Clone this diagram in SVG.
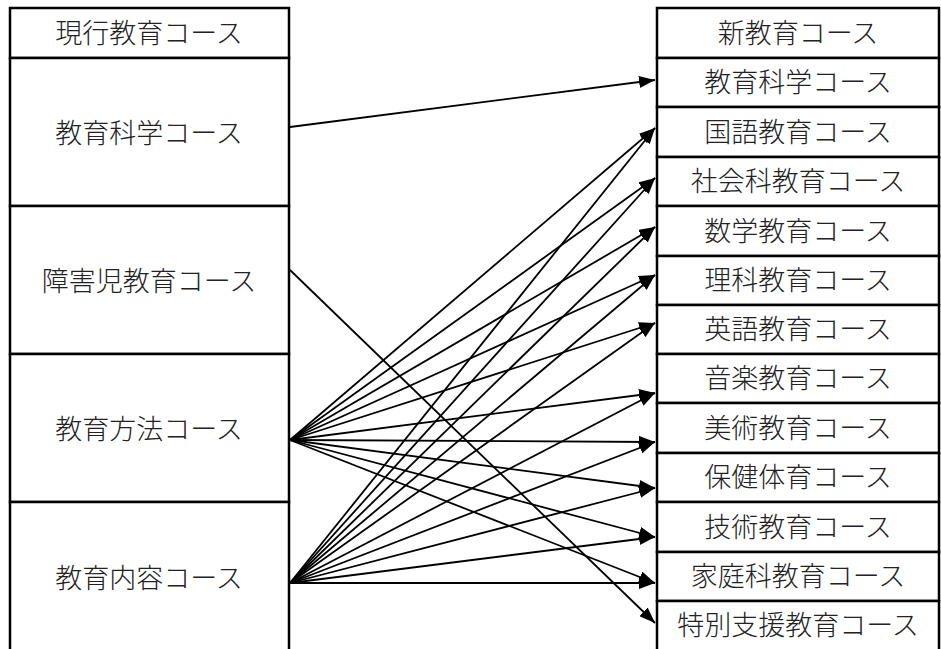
<svg xmlns="http://www.w3.org/2000/svg" width="941" height="649" viewBox="0 0 941 649">
<style>
.box{fill:#fff;stroke:#000;stroke-width:2.5}
.t{font-family:"Noto Sans CJK JP","Noto Sans CJK SC",sans-serif;font-size:27px;font-weight:300;fill:#222;text-anchor:middle}
.c{stroke:#000;stroke-width:1.8;fill:none;marker-end:url(#ah)}
</style>
<defs>
<marker id="ah" markerUnits="userSpaceOnUse" markerWidth="17" markerHeight="12" refX="16" refY="6" orient="auto"><path d="M0,0 L16,6 L0,12 z" fill="#000"/></marker>
</defs>
<rect x="0" y="0" width="941" height="649" fill="#fff"/>
<g id="left">
<g id="L0"><path class="box" d="M10,58 V8 H289 V58 Z"/><text class="t" x="149" y="43">現行教育コース</text></g>
<g id="L1"><path class="box" d="M10,58 H289 V206 H10 Z"/><text class="t" x="149" y="143">教育科学コース</text></g>
<g id="L2"><path class="box" d="M10,206 H289 V354 H10 Z"/><text class="t" x="149" y="291">障害児教育コース</text></g>
<g id="L3"><path class="box" d="M10,354 H289 V502 H10 Z"/><text class="t" x="149" y="439">教育方法コース</text></g>
<g id="L4"><path class="box" d="M10,651 V502 H289 V651"/><text class="t" x="149" y="588">教育内容コース</text></g>
</g>
<g id="right">
<g id="R0"><path class="box" d="M657,8 H939 V58 H657 Z"/><text class="t" x="798" y="43">新教育コース</text></g>
<g id="R1"><path class="box" d="M657,58 H939 V107 H657 Z"/><text class="t" x="798" y="92">教育科学コース</text></g>
<g id="R2"><path class="box" d="M657,107 H939 V157 H657 Z"/><text class="t" x="798" y="142">国語教育コース</text></g>
<g id="R3"><path class="box" d="M657,157 H939 V206 H657 Z"/><text class="t" x="798" y="191">社会科教育コース</text></g>
<g id="R4"><path class="box" d="M657,206 H939 V256 H657 Z"/><text class="t" x="798" y="241">数学教育コース</text></g>
<g id="R5"><path class="box" d="M657,256 H939 V305 H657 Z"/><text class="t" x="798" y="290">理科教育コース</text></g>
<g id="R6"><path class="box" d="M657,305 H939 V354 H657 Z"/><text class="t" x="798" y="339">英語教育コース</text></g>
<g id="R7"><path class="box" d="M657,354 H939 V403 H657 Z"/><text class="t" x="798" y="388">音楽教育コース</text></g>
<g id="R8"><path class="box" d="M657,403 H939 V453 H657 Z"/><text class="t" x="798" y="438">美術教育コース</text></g>
<g id="R9"><path class="box" d="M657,453 H939 V502 H657 Z"/><text class="t" x="798" y="487">保健体育コース</text></g>
<g id="R10"><path class="box" d="M657,502 H939 V552 H657 Z"/><text class="t" x="798" y="537">技術教育コース</text></g>
<g id="R11"><path class="box" d="M657,552 H939 V601 H657 Z"/><text class="t" x="798" y="586">家庭科教育コース</text></g>
<g id="R12"><path class="box" d="M657,651 V601 H939 V651"/><text class="t" x="798" y="635">特別支援教育コース</text></g>
</g>
<g id="connectors">
<line class="c" x1="290" y1="127" x2="655" y2="80"/>
<line class="c" x1="290" y1="270" x2="655" y2="623"/>
<line class="c" x1="290" y1="440" x2="655" y2="128"/>
<line class="c" x1="290" y1="440" x2="655" y2="178"/>
<line class="c" x1="290" y1="440" x2="655" y2="227"/>
<line class="c" x1="290" y1="440" x2="655" y2="275"/>
<line class="c" x1="290" y1="440" x2="655" y2="323"/>
<line class="c" x1="290" y1="440" x2="655" y2="393"/>
<line class="c" x1="290" y1="440" x2="655" y2="442"/>
<line class="c" x1="290" y1="440" x2="655" y2="488"/>
<line class="c" x1="290" y1="440" x2="655" y2="537"/>
<line class="c" x1="290" y1="440" x2="655" y2="583"/>
<line class="c" x1="290" y1="583" x2="655" y2="128"/>
<line class="c" x1="290" y1="583" x2="655" y2="178"/>
<line class="c" x1="290" y1="583" x2="655" y2="227"/>
<line class="c" x1="290" y1="583" x2="655" y2="275"/>
<line class="c" x1="290" y1="583" x2="655" y2="323"/>
<line class="c" x1="290" y1="583" x2="655" y2="393"/>
<line class="c" x1="290" y1="583" x2="655" y2="442"/>
<line class="c" x1="290" y1="583" x2="655" y2="488"/>
<line class="c" x1="290" y1="583" x2="655" y2="537"/>
<line class="c" x1="290" y1="583" x2="655" y2="583"/>
</g>
</svg>
